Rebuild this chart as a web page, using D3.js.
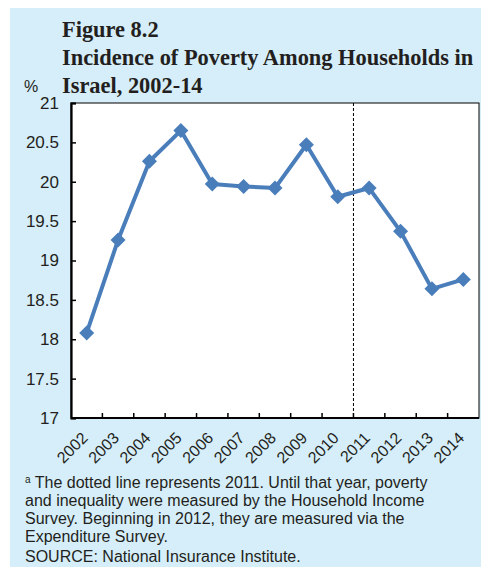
<!DOCTYPE html>
<html>
<head>
<meta charset="utf-8">
<script src="https://cdn.jsdelivr.net/npm/d3@7"></script>
<style>
  body { margin: 0; background: #fff; }
  svg { display: block; }
</style>
</head>
<body>
<div id="chart"></div>
<script>
// Data
const years = ['2002', '2003', '2004', '2005', '2006', '2007', '2008', '2009', '2010', '2011', '2012', '2013', '2014'];
const incidence = [18.08, 19.26, 20.26, 20.65, 19.97, 19.94, 19.92, 20.47, 19.81, 19.92, 19.37, 18.64, 18.76];
const yTicks = [17, 17.5, 18, 18.5, 19, 19.5, 20, 20.5, 21];
const splitYear = '2011';
const titleLines = ['Figure 8.2', 'Incidence of Poverty Among Households in', 'Israel, 2002-14'];
const noteLines = [
    'The dotted line represents 2011. Until that year, poverty',
    'and inequality were measured by the Household Income',
    'Survey. Beginning in 2012, they are measured via the',
    'Expenditure Survey.'
];
const sourceLine = 'SOURCE: National Insurance Institute.';

const W = 481, H = 569;
const bg = '#d6eef9';
const blue = '#4a7ebb';
const margin = { top: 103, right: 2, bottom: 151, left: 71 };
const width = W - margin.left - margin.right;
const height = H - margin.top - margin.bottom;

const svg = d3.select('#chart').append('svg')
    .attr('width', W)
    .attr('height', H);

// Panel background
svg.append('rect')
    .attr('x', 10).attr('y', 8)
    .attr('width', W - 10).attr('height', 559)
    .attr('fill', bg);

// Title
svg.append('g')
    .selectAll('text')
    .data(titleLines)
    .enter()
    .append('text')
    .attr('x', 62)
    .attr('y', (d, i) => 37 + i * 28)
    .attr('font-family', '"Liberation Serif", "Times New Roman", serif')
    .attr('font-weight', 'bold')
    .attr('font-size', 22.4)
    .attr('fill', '#231f20')
    .text(d => d);

svg.append('text')
    .attr('x', 24).attr('y', 92)
    .attr('font-family', '"Liberation Sans", Arial, sans-serif')
    .attr('font-size', 16)
    .attr('fill', '#231f20')
    .text('%');

const g = svg.append('g')
    .attr('transform', `translate(${margin.left},${margin.top})`);

// Scales
const x = d3.scaleBand().domain(years).range([0, width]);
const y = d3.scaleLinear().domain([17, 21]).range([height, 0]);

// Plot area
g.append('rect')
    .attr('width', width).attr('height', height)
    .attr('fill', '#fff')
    .attr('stroke', '#000')
    .attr('stroke-width', 1);

// Dotted line at 2011
g.append('line')
    .attr('x1', x(splitYear)).attr('x2', x(splitYear))
    .attr('y1', 0).attr('y2', height)
    .attr('stroke', '#000')
    .attr('stroke-width', 1)
    .attr('stroke-dasharray', '3,2');

// Y axis
const yAxis = g.append('g')
    .call(d3.axisLeft(y).tickValues(yTicks).tickSize(-5).tickPadding(12).tickFormat(d3.format('')));
yAxis.select('.domain').attr('stroke-width', 2.2);
yAxis.selectAll('.tick line').attr('stroke-width', 1.5);
yAxis.selectAll('text')
    .attr('font-family', '"Liberation Sans", Arial, sans-serif')
    .attr('font-size', 17)
    .attr('fill', '#231f20');

// X axis (ticks between categories)
const xAxis = g.append('g')
    .attr('transform', `translate(0,${height})`);
xAxis.append('line')
    .attr('x1', 0).attr('x2', width)
    .attr('stroke', '#000').attr('stroke-width', 2.2);
xAxis.selectAll('.xtick')
    .data(years.slice(1))
    .enter()
    .append('line')
    .attr('x1', d => x(d)).attr('x2', d => x(d))
    .attr('y1', 0).attr('y2', -5)
    .attr('stroke', '#000').attr('stroke-width', 1.5);
xAxis.selectAll('.xlabel')
    .data(years)
    .enter()
    .append('text')
    .attr('transform', d => `translate(${x(d) + x.bandwidth() / 2 + 2},${21}) rotate(-45)`)
    .attr('text-anchor', 'end')
    .attr('font-family', '"Liberation Sans", Arial, sans-serif')
    .attr('font-size', 16)
    .attr('fill', '#231f20')
    .text(d => d);

// Line
const cx = (d, i) => x(years[i]) + x.bandwidth() / 2;
const line = d3.line()
    .x(cx)
    .y(d => y(d));

g.append('path')
    .datum(incidence)
    .attr('d', line)
    .attr('fill', 'none')
    .attr('stroke', blue)
    .attr('stroke-width', 4)
    .attr('stroke-linejoin', 'round');

g.selectAll('.marker')
    .data(incidence)
    .enter()
    .append('path')
    .attr('class', 'marker')
    .attr('transform', (d, i) => `translate(${cx(d, i)},${y(d)})`)
    .attr('d', 'M0,-7.5L7.5,0L0,7.5L-7.5,0Z')
    .attr('fill', blue);

// Notes
const notes = svg.append('g')
    .attr('font-family', '"Liberation Sans", Arial, sans-serif')
    .attr('font-size', 16)
    .attr('fill', '#231f20');

const first = notes.append('text').attr('x', 25).attr('y', 488);
first.append('tspan').attr('font-size', 10).attr('dy', -5).text('a');
first.append('tspan').attr('dy', 5).text(' ' + noteLines[0]);

notes.selectAll('.note')
    .data(noteLines.slice(1))
    .enter()
    .append('text')
    .attr('x', 25)
    .attr('y', (d, i) => 506 + i * 18)
    .text(d => d);

notes.append('text')
    .attr('x', 25).attr('y', 562)
    .text(sourceLine);
</script>
</body>
</html>
